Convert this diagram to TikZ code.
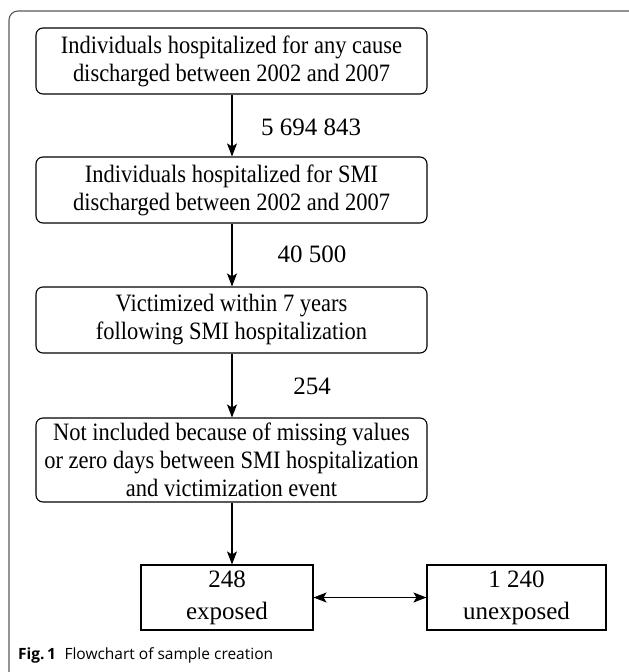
\documentclass[tikz,border=0pt]{standalone}
\usepackage{fontspec}
\setmainfont{Liberation Serif}
\newfontfamily\boxfont{Liberation Serif}[FakeStretch=0.9]
\newfontfamily\capfont{Open Sans}
\usetikzlibrary{arrows.meta,positioning}

\begin{document}
\begin{tikzpicture}[x=1pt,y=-1pt,
    flowbox/.style={draw, rounded corners=7pt, line width=1.1pt,
        minimum width=391pt, minimum height=66pt, inner sep=1pt,
        align=center, font=\boxfont\fontsize{25}{28}\selectfont},
    countbox/.style={draw, line width=1.1pt, minimum height=65pt,
        inner sep=1pt, align=center, font=\fontsize{25}{32}\selectfont},
    flowarrow/.style={-{Stealth[length=13pt,width=10pt,inset=3pt]},
        line width=1.1pt},
    botharrow/.style={{Stealth[length=13pt,width=10pt,inset=3pt]}-{Stealth[length=13pt,width=10pt,inset=3pt]},
        line width=1.1pt},
    countlabel/.style={font=\fontsize{25}{28}\selectfont}]
    \useasboundingbox (0,0) rectangle (629,672);
    \clip (0,0) rectangle (629,672);

    % outer frame
    \draw[gray!70!black, line width=1.1pt, rounded corners=9pt]
        (9,700) -- (9,11) -- (638,11) -- (638,700);

    % selection steps
    \node[flowbox] (allhosp) at (231.5,61)
        {Individuals hospitalized for any cause\\discharged between 2002 and 2007};
    \node[flowbox] (smihosp) at (231.5,190)
        {Individuals hospitalized for SMI\\discharged between 2002 and 2007};
    \node[flowbox] (victim) at (231.5,320)
        {Victimized within 7 years\\following SMI hospitalization};
    \node[flowbox, minimum height=84pt] (notincl) at (231.5,460)
        {Not included because of missing values\\or zero days between SMI hospitalization\\and victimization event};

    % final groups
    \node[countbox, minimum width=172pt] (exposed) at (227,597.5)
        {248\\exposed};
    \node[countbox, minimum width=179pt] (unexposed) at (516.5,597.5)
        {1 240\\unexposed};

    \draw[flowarrow] (allhosp.south -| 232,0) -- (smihosp.north -| 232,0);
    \draw[flowarrow] (smihosp.south -| 232,0) -- (victim.north -| 232,0);
    \draw[flowarrow] (victim.south -| 232,0) -- (notincl.north -| 232,0);
    \draw[flowarrow] (notincl.south -| 232,0) -- (exposed.north -| 232,0);
    \draw[botharrow] (exposed.east) -- (unexposed.west);

    \node[countlabel] (nall) at (311,127) {5 694 843};
    \node[countlabel] (nsmi) at (312,254) {40 500};
    \node[countlabel] (nvict) at (312,386) {254};

    % caption
    \node[anchor=base west, inner sep=0pt, font=\capfont\fontsize{15.5}{18}\selectfont]
        (caption) at (18,659)
        {\textbf{Fig.\,1}\hspace{0.55em}Flowchart of sample creation};
\end{tikzpicture}
\end{document}
